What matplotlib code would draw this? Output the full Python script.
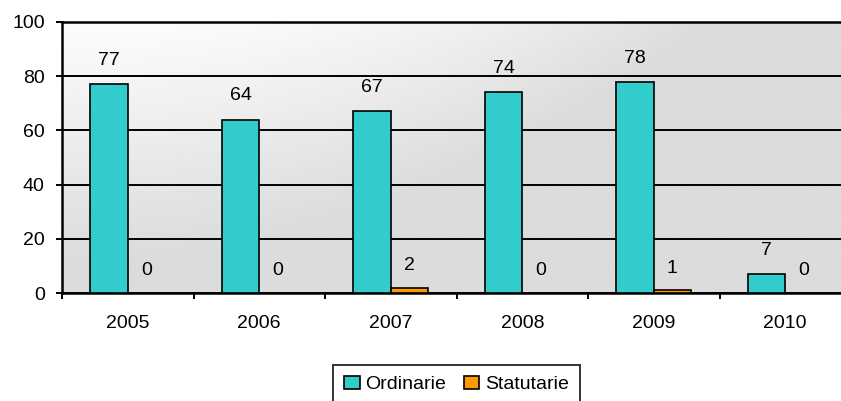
import numpy as np
import matplotlib
matplotlib.use("Agg")
import matplotlib.pyplot as plt

years = ["2005", "2006", "2007", "2008", "2009", "2010"]
ordinarie = [77, 64, 67, 74, 78, 7]
statutarie = [0, 0, 2, 0, 1, 0]

plt.rcParams['font.family'] = ['Liberation Sans', 'DejaVu Sans']
plt.rcParams['font.size'] = 14

fig = plt.figure(figsize=(8.41, 4.01), dpi=100)
# plot area runs past the right edge, like the reference
ax = fig.add_axes([62/841, 108/401, 789/841, 271/401])

x = np.arange(len(years))
w = 0.284

# gradient background (light top-left -> gray)
u, v = np.meshgrid(np.linspace(0, 1.013, 300), np.linspace(0, 1, 200))
t = np.clip(1.45 * u**2 + 1.15 * v, 0, 1)
bg = 0.99 - t * (0.99 - 0.863)
ax.imshow(bg, cmap='gray', vmin=0, vmax=1, extent=(-0.5, 5.5, 0, 100),
          origin='upper', aspect='auto', zorder=0, interpolation='bilinear')

ax.bar(x - w/2, ordinarie, w, color='#33CCCC', edgecolor='black', linewidth=1.2,
       label='Ordinarie', zorder=3)
ax.bar(x + w/2, statutarie, w, color='#FF9900', edgecolor='black', linewidth=1.2,
       label='Statutarie', zorder=3)

for xi, val in zip(x - w/2, ordinarie):
    ax.annotate(str(val), (xi, val), xytext=(0, 17), textcoords='offset points',
                ha='center', va='center')
for xi, val in zip(x + w/2, statutarie):
    ax.annotate(str(val), (xi, val), xytext=(0, 16), textcoords='offset points',
                ha='center', va='center')

ax.set_xlim(-0.5, 5.5)
ax.set_ylim(0, 100)
ax.set_yticks([0, 20, 40, 60, 80, 100])
ax.yaxis.grid(True, color='black', linewidth=1.4, zorder=1)
ax.set_axisbelow(True)

ax.set_xticks(np.arange(-0.5, 6, 1))
ax.set_xticklabels([])
ax.set_xticks(x, minor=True)
ax.set_xticklabels(years, minor=True)
ax.tick_params(axis='x', which='minor', length=0, pad=16)
ax.tick_params(axis='x', which='major', length=4.5, width=1.4, direction='out')
ax.tick_params(axis='y', length=4.5, width=1.4, direction='out', pad=8)

for s in ['left', 'bottom', 'top']:
    ax.spines[s].set_linewidth(1.8)
    ax.spines[s].set_color('black')
ax.spines['right'].set_visible(False)

leg = fig.legend(loc='upper center', bbox_to_anchor=(0.543, 0.09), ncol=2,
                 frameon=True, fancybox=False, edgecolor='black',
                 handlelength=0.8, handleheight=0.7, handletextpad=0.3,
                 columnspacing=0.9, borderpad=0.55, borderaxespad=0, fontsize=14)
leg.get_frame().set_linewidth(1.4)

fig.savefig("out.png", dpi=100)
